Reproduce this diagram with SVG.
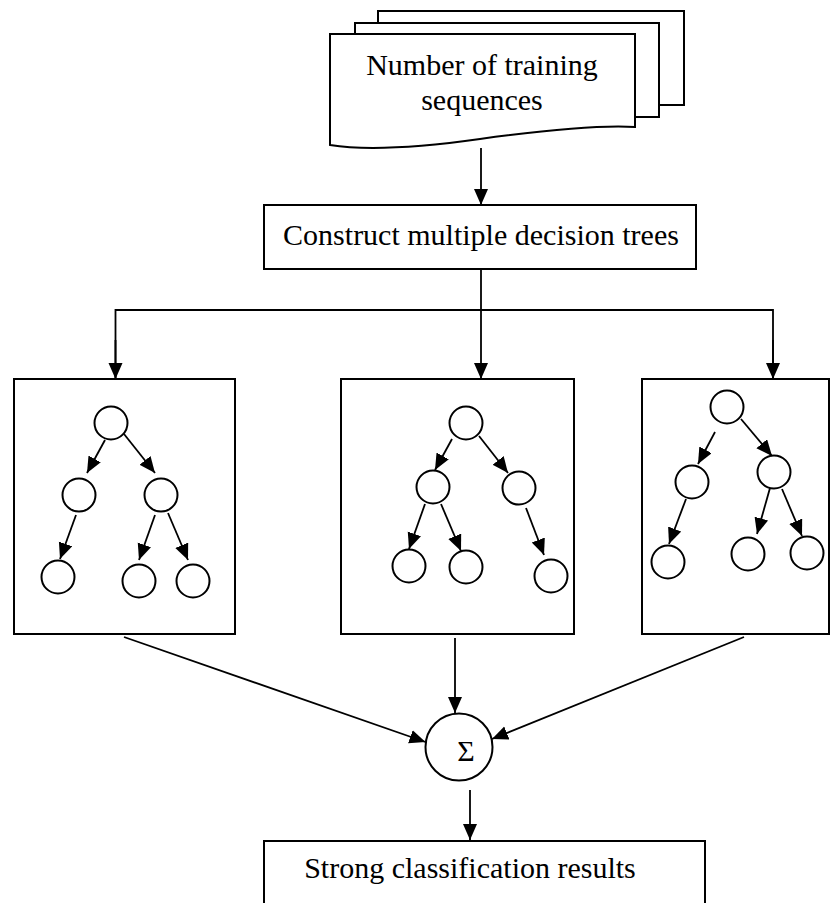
<svg xmlns="http://www.w3.org/2000/svg" width="830" height="903" viewBox="0 0 830 903">
<style>
.box{fill:#fff;stroke:#000;stroke-width:2}
.nd{fill:#fff;stroke:#000;stroke-width:2}
.ln{fill:none;stroke:#000;stroke-width:1.8}
.tx{font-family:"Liberation Serif","Times New Roman",serif;font-size:30px;fill:#000;text-anchor:middle}
</style>
<defs>
<marker id="ah" markerUnits="userSpaceOnUse" markerWidth="17" markerHeight="15" refX="16" refY="7" orient="auto">
<path d="M0,0 L16,7 L0,14 z" fill="#000"/>
</marker>
</defs>
<rect width="830" height="903" fill="#fff"/>

<g id="training-sequences">
<rect class="box" x="378" y="11" width="306" height="94"/>
<rect class="box" x="355" y="23" width="304" height="94"/>
<path class="box" d="M330,34 H635 V127 Q590,124 480,139 Q380,153 330,145 Z"/>
<text class="tx" x="482" y="75">Number of training</text>
<text class="tx" x="482" y="110">sequences</text>
</g>

<g id="construct">
<rect class="box" x="264" y="205" width="432" height="64"/>
<text class="tx" x="481" y="245">Construct multiple decision trees</text>
</g>

<g id="tree1">
<rect class="box" x="14" y="379" width="221" height="255"/>
<circle class="nd" cx="111" cy="423" r="16.5"/>
<circle class="nd" cx="79" cy="495" r="16.5"/>
<circle class="nd" cx="161" cy="495" r="16.5"/>
<circle class="nd" cx="58" cy="577" r="16.5"/>
<circle class="nd" cx="139" cy="581" r="16.5"/>
<circle class="nd" cx="193" cy="581" r="16.5"/>
<g class="ln" marker-end="url(#ah)">
<line x1="105" y1="440" x2="87" y2="473"/>
<line x1="124" y1="434" x2="155" y2="473"/>
<line x1="76" y1="515" x2="60" y2="559"/>
<line x1="155" y1="515" x2="139" y2="560"/>
<line x1="168" y1="513" x2="188" y2="560"/>
</g>
</g>

<g id="tree2">
<rect class="box" x="341" y="379" width="233" height="255"/>
<circle class="nd" cx="466" cy="423" r="16.5"/>
<circle class="nd" cx="433" cy="487" r="16.5"/>
<circle class="nd" cx="519" cy="488" r="16.5"/>
<circle class="nd" cx="409" cy="566" r="16.5"/>
<circle class="nd" cx="466" cy="567" r="16.5"/>
<circle class="nd" cx="551" cy="576" r="16.5"/>
<g class="ln" marker-end="url(#ah)">
<line x1="452" y1="439" x2="435" y2="470"/>
<line x1="479" y1="436" x2="508" y2="473"/>
<line x1="425" y1="504" x2="409" y2="549"/>
<line x1="441" y1="504" x2="461" y2="551"/>
<line x1="526" y1="508" x2="544" y2="555"/>
</g>
</g>

<g id="tree3">
<rect class="box" x="642" y="379" width="187" height="255"/>
<circle class="nd" cx="727" cy="407" r="16.5"/>
<circle class="nd" cx="692" cy="482" r="16.5"/>
<circle class="nd" cx="774" cy="472" r="16.5"/>
<circle class="nd" cx="668" cy="562" r="16.5"/>
<circle class="nd" cx="748" cy="554" r="16.5"/>
<circle class="nd" cx="807" cy="553" r="16.5"/>
<g class="ln" marker-end="url(#ah)">
<line x1="715" y1="432" x2="698" y2="464"/>
<line x1="741" y1="419" x2="772" y2="456"/>
<line x1="686" y1="499" x2="669" y2="544"/>
<line x1="770" y1="488" x2="757" y2="534"/>
<line x1="782" y1="489" x2="802" y2="536"/>
</g>
</g>

<g id="sum">
<circle class="nd" cx="459" cy="747" r="33.5"/>
<text x="466" y="761" font-family="'Liberation Serif','Times New Roman',serif" font-size="30" text-anchor="middle">Σ</text>
</g>

<g id="result">
<rect class="box" x="264" y="841" width="441" height="80"/>
<text class="tx" x="470" y="878">Strong classification results</text>
</g>

<g id="connectors" class="ln">
<line x1="481" y1="148" x2="481" y2="205" marker-end="url(#ah)"/>
<line x1="481" y1="269" x2="481" y2="379" marker-end="url(#ah)"/>
<polyline points="115.5,379 115.5,310 773,310 773,379" fill="none"/>
<line x1="115.5" y1="340" x2="115.5" y2="379" marker-end="url(#ah)"/>
<line x1="773" y1="340" x2="773" y2="379" marker-end="url(#ah)"/>
<line x1="124" y1="637" x2="425.5" y2="742" marker-end="url(#ah)"/>
<line x1="455" y1="638" x2="455" y2="713" marker-end="url(#ah)"/>
<line x1="744" y1="637" x2="492" y2="739" marker-end="url(#ah)"/>
<line x1="470" y1="790" x2="470" y2="840" marker-end="url(#ah)"/>
</g>
</svg>
